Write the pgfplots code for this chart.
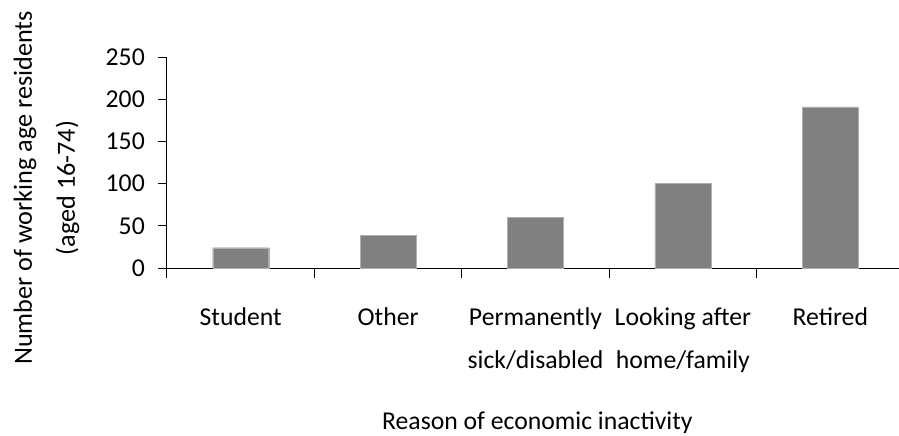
\documentclass[border=0pt]{standalone}
\usepackage{pgfplots}
\pgfplotsset{compat=1.18}
\usepackage{fontspec}
\setmainfont{Carlito}
\definecolor{barfill}{RGB}{128,128,128}
\definecolor{baredge}{RGB}{175,175,175}
\begin{document}
\begin{tikzpicture}
\path[use as bounding box] (-167bp,-168bp) rectangle (732bp,268bp);
\begin{axis}[
  scale only axis,
  width=732bp, height=211bp,
  xmin=-0.5, xmax=4.466,
  ymin=0, ymax=250,
  axis x line=bottom, axis y line=left,
  axis line style={-, black, line width=1bp},
  ytick={0,50,100,150,200,250},
  xtick={0,1,2,3,4},
  xticklabels={{Student\\{}}, {Other\\{}}, {Permanently\\sick/disabled}, {Looking after\\home/family}, {Retired\\{}}},
  minor xtick={-0.5,0.5,1.5,2.5,3.5},
  major x tick style={draw=none},
  minor x tick style={black, line width=1bp},
  y tick style={black, line width=1bp},
  tick align=outside,
  major tick length=9bp, minor tick length=10bp,
  /pgf/number format/assume math mode=true,
  tick label style={font=\fontsize{25.7bp}{43bp}\selectfont, inner sep=0pt},
  xticklabel style={align=center, anchor=base, yshift=-91bp},
  yticklabel style={anchor=east, xshift=-13bp},
  xlabel={Reason of economic inactivity},
  xlabel style={at={(axis description cs:0.506,0)}, anchor=base, yshift=-161bp, inner sep=0pt, font=\fontsize{25.7bp}{43bp}\selectfont},
  ylabel={Number of working age residents\\(aged 16-74)},
  ylabel style={at={(axis description cs:-0.12568,0.379)}, anchor=base, align=center, inner sep=0pt, font=\fontsize{26.2bp}{43bp}\selectfont},
]
\addplot[ybar, bar width=56bp, fill=barfill, draw=baredge] coordinates {(0,24) (1,39) (2,60) (3,100) (4,191)};
\end{axis}
\end{tikzpicture}
\end{document}
